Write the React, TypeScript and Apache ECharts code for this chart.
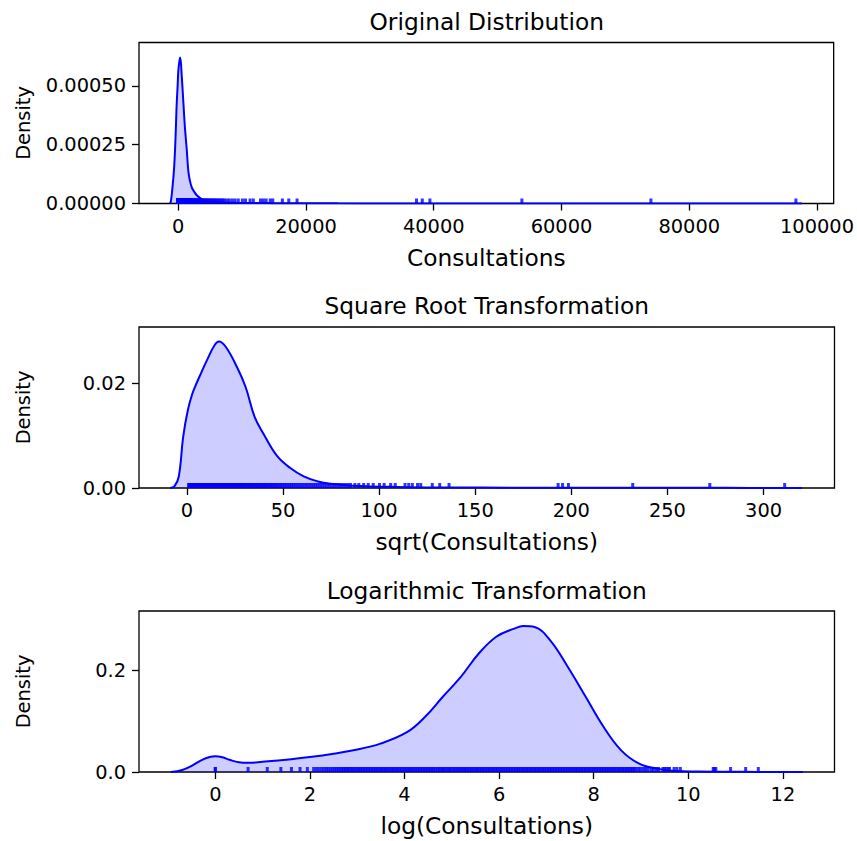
import React, { useEffect, useRef } from "react";
import * as echarts from "echarts";

const consultations = [
  1, 1, 2, 3, 4, 5, 6, 7, 8, 8.5, 9, 9.5, 10, 10.5, 11, 11.5, 12, 12.5, 13, 13.5,
  14, 14.5, 15, 15.5, 16, 16.5, 17, 17.6, 18.2, 18.8, 19.5, 20.2, 20.9, 21.6, 22.4, 23.2, 24, 24.8, 25.7,
  26.6, 27.5, 28.5, 29.5, 30.5, 31.6, 32.7, 33.8, 35, 36.2, 37.5, 38.8, 40.2, 41.6, 43, 44.5, 46, 47.6,
  49.3, 51, 52.8, 54.7, 56.6, 58.6, 60.6, 62.7, 64.9, 67.2, 69.5, 72, 74.5, 77, 79.7, 82.5, 85.4, 88.4,
  91.5, 94.7, 98, 101, 105, 109, 113, 117, 121, 125, 129, 134, 139, 143, 148, 154, 159, 165, 170, 176,
  182, 189, 195, 202, 209, 217, 224, 232, 240, 249, 257, 266, 276, 285, 295, 306, 316, 328, 339, 351,
  363, 376, 389, 403, 417, 431, 446, 462, 478, 495, 512, 530, 549, 568, 588, 608, 630, 652, 674, 698,
  722, 748, 774, 801, 829, 858, 888, 919, 951, 985, 1019, 1055, 1092, 1130, 1170, 1211, 1253, 1297, 1342,
  1389, 1438, 1488, 1540, 1594, 1650, 1708, 1768, 1830, 1894, 1960, 2029, 2100, 2173, 2249, 2328, 2410,
  2494, 2581, 2672, 2765, 2862, 2962, 3066, 3173, 3284, 3399, 3518, 3641, 3769, 3901, 4037, 4178, 4325,
  4476, 4633, 4795, 4963, 5136, 5316, 5502, 5695, 5894, 6100, 6314, 6535, 6764, 7000, 7245, 7640, 8000,
  8460, 8900, 9400, 10040, 10530, 11240, 11750, 12880, 13320, 13760, 14400, 14800, 16300, 17300, 18600,
  37300, 38200, 39400, 53800, 74000, 96700,
];

// KDE curves
const kdeOrigX = [
  -1300, -1150, -900, -630, -400, -266, -100, 0, 150, 300, 550, 800, 1050, 1300, 1570, 1800, 2100, 2500,
  2900, 3600, 4400, 5500, 7000, 9000, 12000, 15000, 19000, 25000, 32000, 39000, 47000, 54000, 64000,
  74000, 86000, 97650,
];
const kdeOrigY = [
  0, 0.00001, 0.00007, 0.00016, 0.0003, 0.00041, 0.0005, 0.00056, 0.0006, 0.00062, 0.00054, 0.00043,
  0.00032, 0.00024, 0.00014, 0.0001, 0.00007, 0.00005, 0.000035, 0.00002, 0.00001, 0.000006, 0.000004,
  0.000003, 0.0000022, 0.0000015, 0.000001, 0.0000006, 0.0000004, 0.0000003, 0.0000002, 0.0000002,
  0.0000001, 0.0000001, 0.0000001, 0,
];
const kdeSqrtX = [
  -8.8, -6.5, -4.2, -1.9, 0.5, 2.8, 5.1, 7.4, 10.9, 14.4, 16.7, 20.2, 26, 30.6, 35.3, 39.9, 46.9, 53.8,
  60.8, 67.7, 74.7, 86, 109.5, 135, 170, 202, 240, 280, 320,
];
const kdeSqrtY = [
  0, 0.0003, 0.0022, 0.0098, 0.0148, 0.0179, 0.0200, 0.0219, 0.0247, 0.0272, 0.0279, 0.0269, 0.0231,
  0.0192, 0.0135, 0.0103, 0.0061, 0.0038, 0.0022, 0.0013, 0.0008, 0.00045, 0.0002, 0.0001, 0.00006,
  0.00005, 0.00004, 0.00003, 0,
];
const kdeLogX = [
  -0.94, -0.7, -0.5, -0.3, -0.1, 0.0, 0.15, 0.3, 0.5, 0.7, 1.0, 1.5, 2.0, 2.5, 2.92, 3.49, 4.06, 4.43,
  4.81, 5.19, 5.57, 5.94, 6.32, 6.51, 6.75, 7.08, 7.45, 7.83, 8.21, 8.58, 8.96, 9.34, 9.72, 10.2, 10.8,
  11.5, 12.42,
];
const kdeLogY = [
  0, 0.004, 0.012, 0.023, 0.03, 0.031, 0.029, 0.024, 0.019, 0.018, 0.02, 0.024, 0.0295, 0.036, 0.0426,
  0.0557, 0.0787, 0.108, 0.148, 0.187, 0.233, 0.266, 0.282, 0.287, 0.285, 0.259, 0.207, 0.148, 0.0885,
  0.0426, 0.0164, 0.0066, 0.002, 0.0008, 0.0004, 0.0002, 0,
];

const titles = ["Original Distribution", "Square Root Transformation", "Logarithmic Transformation"];
const xLabels = ["Consultations", "sqrt(Consultations)", "log(Consultations)"];
const yLabel = "Density";
const xTicks1 = [0, 20000, 40000, 60000, 80000, 100000];
const xTicks2 = [0, 50, 100, 150, 200, 250, 300];
const xTicks3 = [0, 2, 4, 6, 8, 10, 12];
const yTicks1 = [0, 0.00025, 0.0005];
const yTicks2 = [0, 0.02];
const yTicks3 = [0, 0.2];

const FONT = "DejaVu Sans";
const BLUE = "#0000ff";

export default function App() {
  const ref = useRef<HTMLDivElement>(null);

  useEffect(() => {
    if (!ref.current) return;
    const chart = echarts.init(ref.current, null, { renderer: "svg" });

    const panels = [
      {
        kx: kdeOrigX, ky: kdeOrigY, rug: consultations.map((v) => v),
        xr: [-6146, 102611], xt: xTicks1, yr: [0, 0.000684], yt: yTicks1, dec: 5, top: 42.5,
      },
      {
        kx: kdeSqrtX, ky: kdeSqrtY, rug: consultations.map((v) => Math.sqrt(v)),
        xr: [-24.9, 336.9], xt: xTicks2, yr: [0, 0.03067], yt: yTicks2, dec: 2, top: 327,
      },
      {
        kx: kdeLogX, ky: kdeLogY, rug: consultations.map((v) => Math.log(v)),
        xr: [-1.613, 13.09], xt: xTicks3, yr: [0, 0.3166], yt: yTicks3, dec: 1, top: 611,
      },
    ];

    const LEFT = 139;
    const WIDTH = 695.5;
    const HEIGHT = 161;
    const tickFont = 19.4;
    const labelFont = 23.3;

    const grid: any[] = [];
    const xAxis: any[] = [];
    const yAxis: any[] = [];
    const series: any[] = [];
    const graphic: any[] = [];

    panels.forEach((p, i) => {
      grid.push({
        left: LEFT, top: p.top, width: WIDTH, height: HEIGHT,
        show: true, borderColor: "#000", borderWidth: 1.3, backgroundColor: "transparent",
      });
      xAxis.push({
        type: "value", gridIndex: i, min: p.xr[0], max: p.xr[1], position: "bottom",
        name: xLabels[i], nameLocation: "middle", nameGap: 42,
        nameTextStyle: { fontFamily: FONT, fontSize: labelFont, color: "#000" },
        axisLine: { show: false, onZero: false },
        axisTick: { show: true, length: 7, customValues: p.xt, lineStyle: { color: "#000", width: 1.3 } },
        axisLabel: {
          customValues: p.xt, fontFamily: FONT, fontSize: tickFont, color: "#000", margin: 13,
          formatter: (v: number) => String(v),
        },
        splitLine: { show: false },
      });
      yAxis.push({
        type: "value", gridIndex: i, min: p.yr[0], max: p.yr[1], position: "left",
        name: yLabel, nameLocation: "middle", nameGap: 106,
        nameTextStyle: { fontFamily: FONT, fontSize: tickFont, color: "#000" },
        axisLine: { show: false, onZero: false },
        axisTick: { show: true, length: 7, customValues: p.yt, lineStyle: { color: "#000", width: 1.3 } },
        axisLabel: {
          customValues: p.yt, fontFamily: FONT, fontSize: tickFont, color: "#000", margin: 13,
          formatter: (v: number) => v.toFixed(p.dec),
        },
        splitLine: { show: false },
      });
      series.push({
        type: "line", xAxisIndex: i, yAxisIndex: i,
        data: p.kx.map((x, j) => [x, p.ky[j]]),
        showSymbol: false, smooth: 0.4,
        lineStyle: { color: BLUE, width: 2 },
        areaStyle: { color: "rgba(0,0,255,0.28)" },
        silent: true, z: 2,
      });
      series.push({
        type: "scatter", xAxisIndex: i, yAxisIndex: i,
        data: p.rug.map((x) => [x, 0]),
        symbol: "rect", symbolSize: [3, 5], symbolOffset: [0, -2.5],
        itemStyle: { color: BLUE },
        silent: true, z: 3,
      });
      graphic.push({
        type: "text", x: LEFT + WIDTH / 2, y: [21, 305.5, 590][i],
        style: {
          text: titles[i], font: `${labelFont}px "${FONT}"`, fill: "#000",
          align: "center", verticalAlign: "middle", textAlign: "center", textVerticalAlign: "middle",
        },
      });
    });

    chart.setOption({
      animation: false,
      backgroundColor: "#fff",
      grid, xAxis, yAxis, series, graphic,
    });

    return () => chart.dispose();
  }, []);

  return (
    <div
      ref={ref}
      style={{ position: "fixed", left: 0, top: 0, width: 857, height: 841, background: "#fff" }}
    />
  );
}
